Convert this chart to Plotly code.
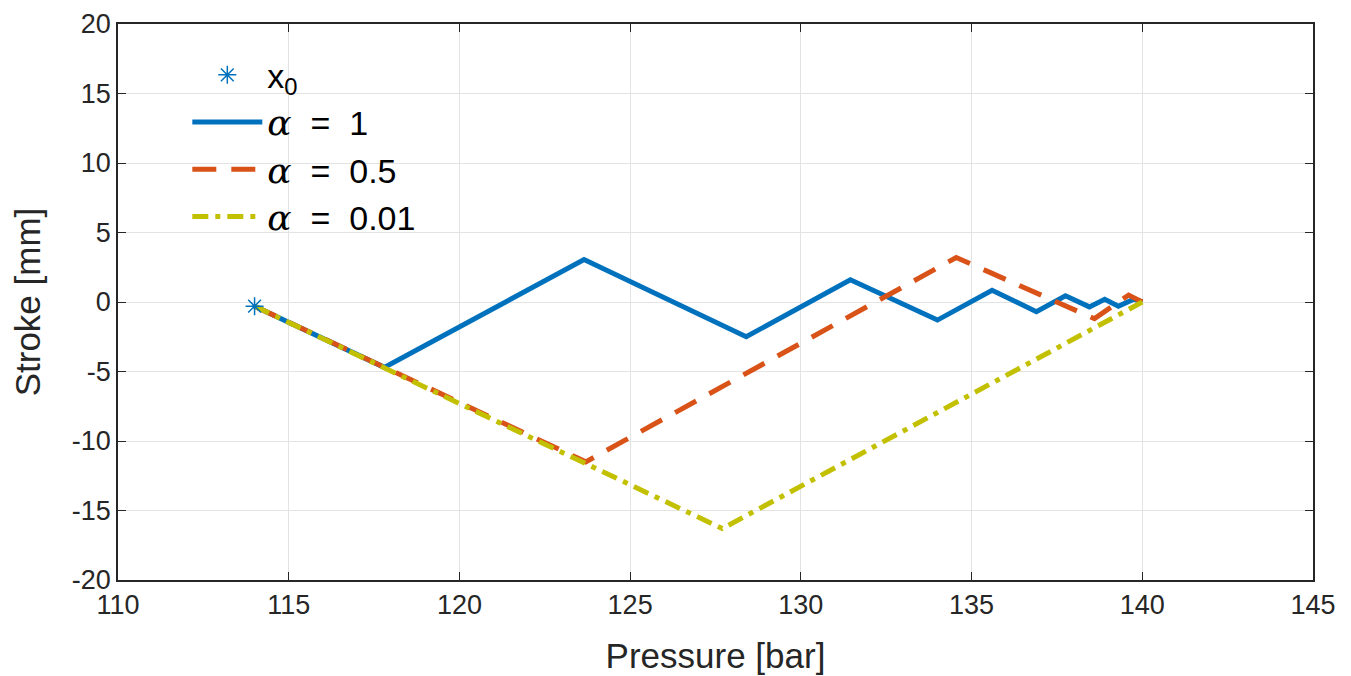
import plotly.graph_objects as go

# Data
x0_x = [114.0]
x0_y = [-0.3]

a1_x = [114.0, 117.8, 123.65, 128.4, 131.45, 134.0, 135.6, 136.9, 137.75, 138.45, 138.9, 139.3, 139.75, 140.0]
a1_y = [-0.3, -4.7, 3.05, -2.5, 1.6, -1.3, 0.85, -0.7, 0.45, -0.35, 0.2, -0.3, 0.2, 0.0]

a05_x = [114.0, 123.7, 134.55, 138.6, 139.6, 140.0]
a05_y = [-0.3, -11.5, 3.2, -1.2, 0.5, 0.0]

a001_x = [114.0, 127.7, 140.0]
a001_y = [-0.3, -16.3, 0.0]

x_ticks = [110, 115, 120, 125, 130, 135, 140, 145]
x_ticktext = ["110", "115", "120", "125", "130", "135", "140", "145"]
y_ticks = [-20, -15, -10, -5, 0, 5, 10, 15, 20]
y_ticktext = ["-20", "-15", "-10", "-5", "0", "5", "10", "15", "20"]

FONT = "Liberation Sans, Arial, sans-serif"
alpha = "<span style='font-family:DejaVu Serif;font-size:36px'><i>α</i></span>"

fig = go.Figure()
fig.add_trace(go.Scatter(x=a1_x, y=a1_y, mode="lines", name=alpha + "  =  1",
                         line=dict(color="#0072BD", width=5), legendrank=2))
fig.add_trace(go.Scatter(x=a05_x, y=a05_y, mode="lines", name=alpha + "  =  0.5",
                         line=dict(color="#D95319", width=5, dash="24px,15px"), legendrank=3))
fig.add_trace(go.Scatter(x=a001_x, y=a001_y, mode="lines", name=alpha + "  =  0.01",
                         line=dict(color="#C2C000", width=5, dash="16px,7px,5px,7px"), legendrank=4))
fig.add_trace(go.Scatter(x=x0_x, y=x0_y, mode="markers", name="x<sub>0</sub>",
                         marker=dict(symbol="asterisk-open", size=15, color="#0072BD",
                                     line=dict(color="#0072BD", width=1.5)), legendrank=1))

axis_common = dict(showgrid=True, gridcolor="#E3E3E3", gridwidth=1, zeroline=False,
                   showline=True, linecolor="#262626", linewidth=1.5, mirror="ticks",
                   ticks="inside", ticklen=8, tickcolor="#262626", automargin=False,
                   tickfont=dict(family=FONT, size=27, color="#262626"))

fig.update_xaxes(range=[110, 145], tickvals=x_ticks, ticktext=x_ticktext,
                 title=dict(text="Pressure [bar]", font=dict(family=FONT, size=35, color="#262626"), standoff=24),
                 **axis_common)
fig.update_yaxes(range=[-20, 20], tickvals=y_ticks, ticktext=y_ticktext,
                 title=dict(text="Stroke [mm]", font=dict(family=FONT, size=35, color="#262626"), standoff=22),
                 **axis_common)

fig.update_layout(
    width=1351, height=676,
    margin=dict(l=110, r=46, t=16, b=104),
    plot_bgcolor="white", paper_bgcolor="white",
    font=dict(family=FONT, color="#000000"),
    legend=dict(x=0.058, y=0.96, xanchor="left", yanchor="top",
                bgcolor="rgba(255,255,255,0)", borderwidth=0,
                font=dict(family=FONT, size=34, color="#000000"),
                tracegroupgap=0, itemwidth=70),
    showlegend=True,
)

fig.write_html("out.html")
